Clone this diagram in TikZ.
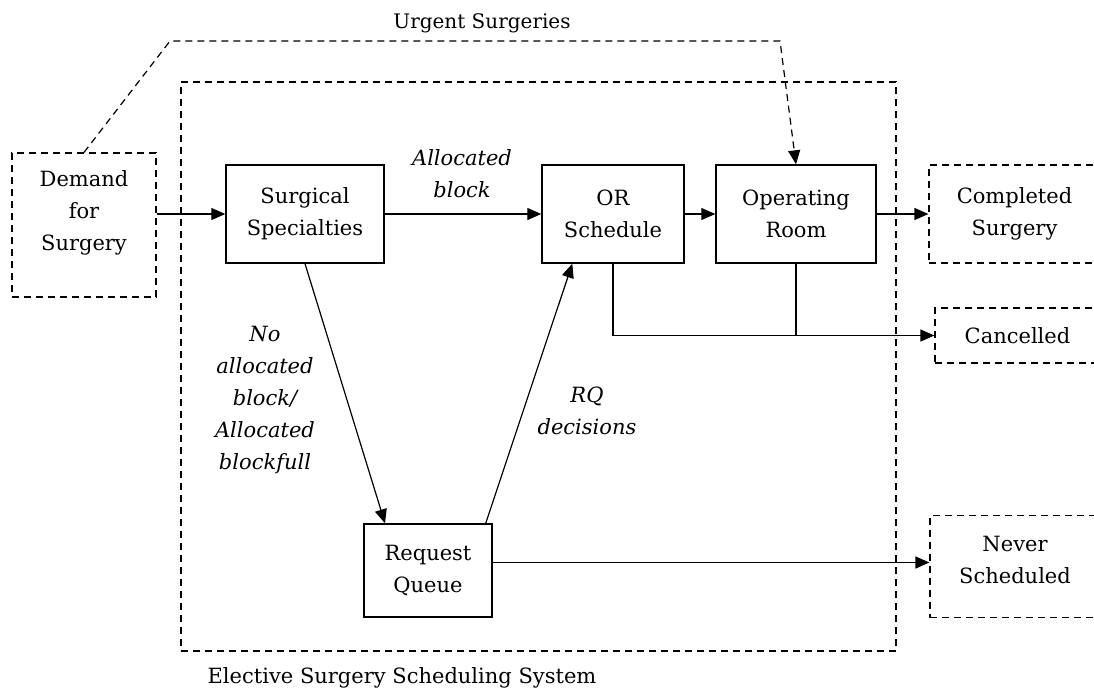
\documentclass[tikz,border=0pt]{standalone}
\usepackage{fontspec}
\setmainfont{DejaVu Serif}
\usetikzlibrary{arrows.meta}
\begin{document}
\begin{tikzpicture}[x=1pt, y=-1pt, >={Triangle[length=14pt, width=12pt]},
        every node/.style={font=\fontsize{21}{32}\selectfont, align=center, inner sep=0pt},
        box/.style={draw, line width=1.4pt, minimum height=98},
        outbox/.style={draw, line width=1.2pt, dash pattern=on 7pt off 5pt},
        lbl/.style={font=\itshape\fontsize{21}{32}\selectfont},
        flow/.style={->, line width=1.2pt}]
        \useasboundingbox (0,0) rectangle (1094,694);
        % system boundary
        \node[outbox, minimum width=715, minimum height=569] (sys) at (538.5,366.5) {};
        \node (syslabel) at (402,678) {Elective Surgery Scheduling System};
        \node[outbox, minimum width=144, minimum height=144, text depth=29] (demand) at (84,225) {Demand\\for\\Surgery};
        \node[box, minimum width=158] (surg) at (305,214) {Surgical\\Specialties};
        \node[box, minimum width=142] (ors) at (613,214) {OR\\Schedule};
        \node[box, minimum width=160] (orm) at (796,214) {Operating\\Room};
        \node[box, minimum width=128, minimum height=93] (rq) at (428,570.5) {Request\\Queue};
        \node[outbox, minimum width=171, minimum height=98] (done) at (1014.5,214) {Completed\\Surgery};
        \node[outbox, minimum width=165, minimum height=55] (cancel) at (1017.5,335.5) {Cancelled};
        \node[outbox, minimum width=170, minimum height=102, text depth=14] (never) at (1015,566.5) {Never\\Scheduled};
        % labels
        \node[font=\fontsize{20}{24}\selectfont] (urgent) at (482,23) {Urgent Surgeries};
        \node[lbl] (alloc) at (462,174) {Allocated\\block};
        \node[lbl] (noalloc) at (265,400) {No\\allocated\\block/\\Allocated\\blockfull};
        \node[lbl] (rqdec) at (587,411) {RQ\\decisions};
        % flows
        \coordinate (u1) at (170,41);
        \coordinate (u2) at (780,41);
        \coordinate (rqout) at ([yshift=8pt]rq.east);
        \draw[flow, dash pattern=on 7pt off 5pt] (demand.north) -- (u1) -- (u2) -- (orm.north);
        \draw[flow] (demand.east |- surg.west) -- (surg.west);
        \draw[flow] (surg) -- (ors);
        \draw[flow] (ors) -- (orm);
        \draw[flow] (orm) -- (done);
        \draw[flow] (ors.south) |- (cancel.west);
        \draw[line width=1.2pt] (orm.south) -- (orm.south |- cancel.west);
        \draw[flow] (surg.south) -- ([xshift=-43pt]rq.north);
        \draw[flow] ([xshift=-7pt]rq.north east) -- ([xshift=31pt]ors.south west);
        \draw[flow] (rqout) -- (rqout -| never.west);
    \end{tikzpicture}
\end{document}
